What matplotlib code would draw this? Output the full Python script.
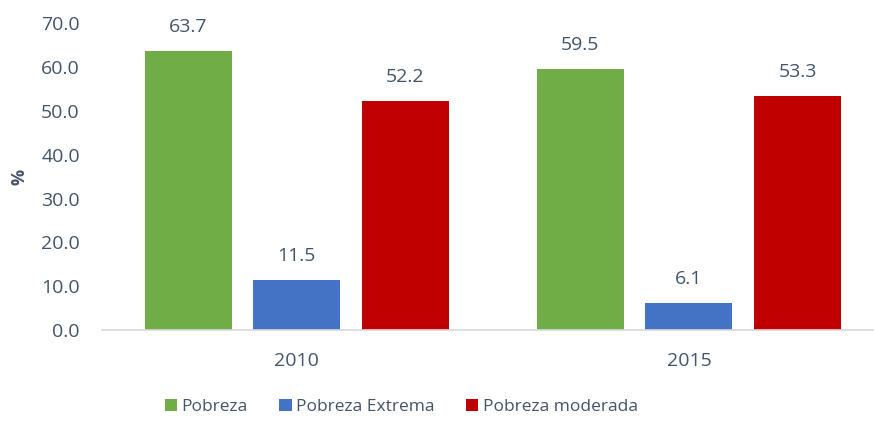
import numpy as np
import matplotlib.pyplot as plt

plt.rcParams['font.family'] = ['Open Sans', 'DejaVu Sans']

years = ['2010', '2015']
series = ['Pobreza', 'Pobreza Extrema', 'Pobreza moderada']
values = [
    [63.7, 59.5],
    [11.5, 6.1],
    [52.2, 53.3],
]
colors = ['#70AD47', '#4472C4', '#C00000']
txt = '#44546A'

fig = plt.figure(figsize=(8.74, 4.21), dpi=100)
ax = fig.add_axes([0.1167, 0.216, 0.8833, 0.729])

x = np.arange(len(years))
width = 0.222
offs = [-0.277, 0, 0.277]
for i, s in enumerate(series):
    bars = ax.bar(x + offs[i], values[i], width, color=colors[i], label=s)
    for b, v in zip(bars, values[i]):
        ax.text(b.get_x() + b.get_width() / 2, v + 5.5, f'{v:.1f}',
                ha='center', va='center', fontsize=14, color=txt)

ax.set_xlim(-0.497, 1.472)
ax.set_ylim(0, 70)
ax.set_yticks(np.arange(0, 71, 10))
ax.set_yticklabels([f'{t:.1f}' for t in np.arange(0, 71, 10)])
ax.set_xticks(x)
ax.set_xticklabels(years)
ax.tick_params(axis='both', length=0, labelsize=14, colors=txt)
ax.tick_params(axis='y', pad=16)
ax.tick_params(axis='x', pad=16)
for sp in ['top', 'right', 'left']:
    ax.spines[sp].set_visible(False)
ax.spines['bottom'].set_color('#D9D9D9')
ax.spines['bottom'].set_linewidth(1.2)

ax.set_ylabel('%', fontsize=13, color=txt, fontweight='bold', labelpad=9)

leg = fig.legend(loc='center', bbox_to_anchor=(0.459, 0.033), ncol=3, frameon=False,
                 fontsize=12.5, handlelength=0.72, handleheight=0.72, handletextpad=0.25,
                 columnspacing=1.8)
for t in leg.get_texts():
    t.set_color(txt)

fig.savefig('out.png', dpi=100)
